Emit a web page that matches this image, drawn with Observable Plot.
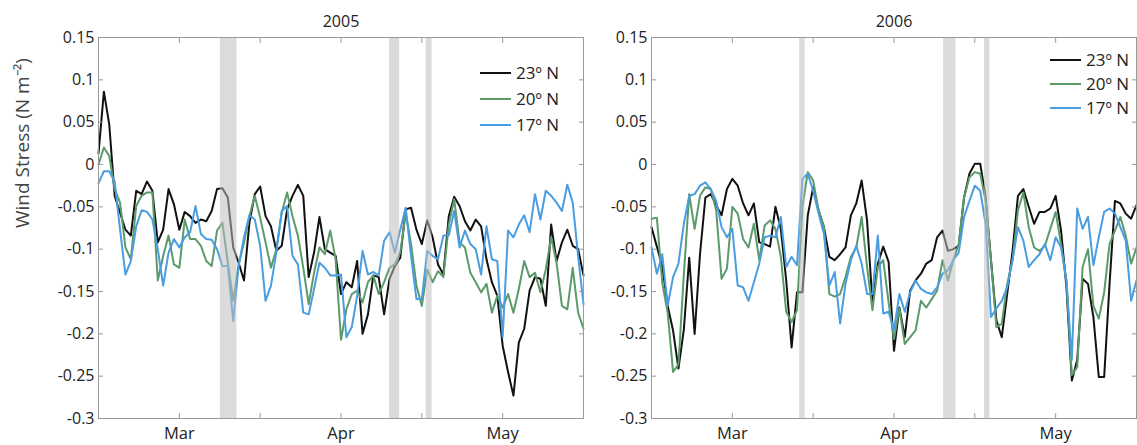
<!DOCTYPE html>
<html>
<head>
<meta charset="utf-8">
<script src="https://cdn.jsdelivr.net/npm/d3@7"></script>
<script src="https://cdn.jsdelivr.net/npm/@observablehq/plot@0.6"></script>
<style>
  html, body { margin: 0; padding: 0; background: #fff; }
  #chart { position: relative; width: 1137px; height: 445px; font-family: "Open Sans", sans-serif; }
  #chart > svg { position: absolute; top: 0; }
</style>
</head>
<body>
<div id="chart"></div>
<script>
// Daily wind stress (N m^-2), day of year 45 (14 Feb) to 135 (15 May)
const days = d3.range(45, 136);

const lat23_2005 = [
  0.013, 0.086, 0.047, -0.037, -0.057, -0.077, -0.084, -0.031, -0.035, -0.020,
  -0.031, -0.092, -0.077, -0.029, -0.047, -0.077, -0.056, -0.061, -0.069, -0.065,
  -0.067, -0.055, -0.029, -0.028, -0.039, -0.098, -0.116, -0.137, -0.069, -0.035,
  -0.026, -0.061, -0.073, -0.102, -0.096, -0.053, -0.037, -0.024, -0.037, -0.133,
  -0.104, -0.062, -0.100, -0.104, -0.108, -0.153, -0.139, -0.145, -0.114, -0.200,
  -0.177, -0.131, -0.133, -0.177, -0.135, -0.120, -0.110, -0.053, -0.051, -0.077,
  -0.094, -0.066, -0.086, -0.118, -0.130, -0.061, -0.038, -0.049, -0.067, -0.078,
  -0.065, -0.073, -0.112, -0.139, -0.155, -0.214, -0.245, -0.273, -0.210, -0.194,
  -0.149, -0.133, -0.135, -0.167, -0.071, -0.114, -0.092, -0.077, -0.096, -0.100,
  -0.131
];
const lat20_2005 = [
  0.000, 0.020, 0.010, -0.029, -0.045, -0.098, -0.112, -0.049, -0.037, -0.033,
  -0.033, -0.137, -0.108, -0.084, -0.118, -0.122, -0.065, -0.088, -0.088, -0.096,
  -0.114, -0.120, -0.078, -0.069, -0.116, -0.161, -0.118, -0.092, -0.061, -0.037,
  -0.063, -0.092, -0.122, -0.100, -0.057, -0.033, -0.061, -0.084, -0.122, -0.165,
  -0.128, -0.098, -0.106, -0.078, -0.112, -0.207, -0.171, -0.153, -0.149, -0.163,
  -0.139, -0.131, -0.153, -0.139, -0.122, -0.118, -0.104, -0.057, -0.094, -0.143,
  -0.167, -0.124, -0.139, -0.126, -0.133, -0.071, -0.041, -0.092, -0.098, -0.128,
  -0.139, -0.151, -0.141, -0.175, -0.155, -0.169, -0.153, -0.175, -0.147, -0.114,
  -0.133, -0.128, -0.151, -0.124, -0.086, -0.116, -0.167, -0.171, -0.122, -0.175,
  -0.194
];
const lat17_2005 = [
  -0.022, -0.008, -0.008, -0.020, -0.077, -0.130, -0.114, -0.073, -0.054, -0.056,
  -0.065, -0.100, -0.143, -0.104, -0.088, -0.098, -0.086, -0.080, -0.049, -0.082,
  -0.088, -0.089, -0.100, -0.120, -0.120, -0.185, -0.120, -0.086, -0.060, -0.065,
  -0.096, -0.161, -0.143, -0.104, -0.055, -0.049, -0.108, -0.118, -0.175, -0.177,
  -0.147, -0.116, -0.122, -0.131, -0.131, -0.130, -0.204, -0.192, -0.155, -0.102,
  -0.130, -0.127, -0.131, -0.090, -0.080, -0.104, -0.077, -0.051, -0.108, -0.159,
  -0.159, -0.102, -0.108, -0.112, -0.084, -0.084, -0.055, -0.098, -0.078, -0.094,
  -0.100, -0.130, -0.073, -0.112, -0.114, -0.204, -0.078, -0.086, -0.071, -0.060,
  -0.080, -0.035, -0.065, -0.031, -0.037, -0.045, -0.055, -0.024, -0.045, -0.108,
  -0.165
];

const lat23_2006 = [
  -0.074, -0.097, -0.120, -0.167, -0.196, -0.241, -0.195, -0.110, -0.200, -0.106,
  -0.039, -0.035, -0.048, -0.060, -0.029, -0.017, -0.025, -0.046, -0.060, -0.046,
  -0.092, -0.094, -0.097, -0.050, -0.076, -0.137, -0.216, -0.151, -0.151, -0.060,
  -0.027, -0.054, -0.074, -0.109, -0.113, -0.106, -0.098, -0.060, -0.046, -0.019,
  -0.066, -0.163, -0.117, -0.097, -0.115, -0.220, -0.169, -0.204, -0.149, -0.137,
  -0.129, -0.117, -0.113, -0.086, -0.078, -0.102, -0.100, -0.096, -0.039, -0.011,
  0.001, 0.001, -0.039, -0.113, -0.184, -0.204, -0.153, -0.102, -0.037, -0.029,
  -0.050, -0.070, -0.056, -0.056, -0.052, -0.037, -0.078, -0.145, -0.255, -0.231,
  -0.135, -0.141, -0.180, -0.251, -0.251, -0.141, -0.043, -0.046, -0.058, -0.064,
  -0.048
];
const lat20_2006 = [
  -0.064, -0.063, -0.140, -0.175, -0.245, -0.236, -0.130, -0.035, -0.076, -0.037,
  -0.027, -0.029, -0.054, -0.135, -0.123, -0.050, -0.058, -0.088, -0.098, -0.070,
  -0.113, -0.072, -0.066, -0.076, -0.109, -0.174, -0.186, -0.172, -0.050, -0.009,
  -0.019, -0.054, -0.074, -0.153, -0.156, -0.153, -0.133, -0.109, -0.098, -0.062,
  -0.121, -0.172, -0.121, -0.113, -0.163, -0.206, -0.170, -0.212, -0.204, -0.196,
  -0.161, -0.169, -0.159, -0.149, -0.113, -0.137, -0.113, -0.094, -0.039, -0.015,
  -0.009, -0.011, -0.043, -0.113, -0.192, -0.188, -0.141, -0.113, -0.054, -0.033,
  -0.074, -0.098, -0.102, -0.096, -0.076, -0.056, -0.094, -0.137, -0.249, -0.239,
  -0.121, -0.100, -0.167, -0.182, -0.151, -0.094, -0.078, -0.062, -0.084, -0.117,
  -0.098
];
const lat17_2006 = [
  -0.098, -0.129, -0.106, -0.167, -0.133, -0.117, -0.070, -0.037, -0.035, -0.025,
  -0.021, -0.029, -0.043, -0.074, -0.086, -0.076, -0.143, -0.145, -0.161, -0.139,
  -0.117, -0.086, -0.084, -0.086, -0.062, -0.121, -0.109, -0.119, -0.017, -0.011,
  -0.031, -0.058, -0.082, -0.143, -0.127, -0.188, -0.141, -0.113, -0.096, -0.117,
  -0.153, -0.153, -0.084, -0.176, -0.174, -0.196, -0.153, -0.174, -0.151, -0.137,
  -0.147, -0.151, -0.153, -0.145, -0.129, -0.125, -0.113, -0.104, -0.062, -0.043,
  -0.025, -0.031, -0.070, -0.180, -0.170, -0.161, -0.145, -0.113, -0.074, -0.090,
  -0.121, -0.113, -0.106, -0.094, -0.113, -0.086, -0.098, -0.137, -0.231, -0.052,
  -0.076, -0.062, -0.119, -0.086, -0.056, -0.052, -0.058, -0.074, -0.090, -0.161,
  -0.137
];

// Shaded event periods (day of year)
const eventStart2005 = [67.6, 99.0, 105.8];
const eventEnd2005   = [70.7, 100.9, 106.9];
const eventStart2006 = [72.5, 99.2, 106.8];
const eventEnd2006   = [73.5, 101.5, 107.8];

const seriesNames = ["23º N", "20º N", "17º N"];
const seriesColors = ["#111111", "#5b9a6b", "#4a9de0"];
const yTicks = [0.15, 0.1, 0.05, 0, -0.05, -0.1, -0.15, -0.2, -0.25, -0.3];
const xTicks = [60, 75, 90, 105, 120];
const monthTicks = [60, 90, 120];
const monthNames = ["Mar", "Apr", "May"];
const yLabel = "Wind Stress (N m⁻²)";

const axisGray = "#9a9a9a";
const textColor = "#222";

function panel({title, series, starts, ends, width, marginLeft, marginRight, showLabel}) {
  const rows = series.flatMap((vals, k) =>
    vals.map((v, i) => ({day: days[i], value: v, name: seriesNames[k]})));
  const events = starts.map((s, i) => ({start: s, end: ends[i]}));
  const monthLabel = d => {
    const i = monthTicks.indexOf(d);
    return i >= 0 ? monthNames[i] : "";
  };
  const marks = [
    Plot.line(rows, {x: "day", y: "value", z: "name", stroke: "name", strokeWidth: 2, strokeLinejoin: "round"}),
    Plot.rect(events, {x1: "start", x2: "end", fill: "#bdbdbd", fillOpacity: 0.55}),
    Plot.frame({stroke: axisGray}),
    Plot.axisY(yTicks, {anchor: "left", tickSize: -5, tickPadding: 9, tickFormat: d => String(d),
      fontSize: 16, stroke: axisGray, fill: textColor, label: null}),
    Plot.axisY(yTicks, {anchor: "right", tickSize: -5, tickFormat: () => "", stroke: axisGray, label: null}),
    Plot.axisX(xTicks, {anchor: "bottom", tickSize: -5, tickPadding: 14, tickFormat: monthLabel,
      fontSize: 16.5, stroke: axisGray, fill: textColor, label: null}),
    Plot.axisX(xTicks, {anchor: "top", tickSize: -5, tickFormat: () => "", stroke: axisGray, label: null}),
    Plot.text([title], {frameAnchor: "top", dy: -22, fontSize: 16, fill: textColor})
  ];
  if (showLabel) {
    marks.push(Plot.text([yLabel], {frameAnchor: "left", rotate: -90, dx: -76, fontSize: 19, fill: "#444"}));
  }
  return Plot.plot({
    width, height: 445,
    marginLeft, marginRight, marginTop: 37, marginBottom: 27,
    x: {domain: [45, 135]},
    y: {domain: [-0.3, 0.15]},
    color: {domain: seriesNames, range: seriesColors},
    style: {fontFamily: "'Open Sans', sans-serif", background: "transparent", overflow: "visible"},
    marks
  });
}

const chart = document.getElementById("chart");

const left = panel({
  title: "2005", series: [lat23_2005, lat20_2005, lat17_2005],
  starts: eventStart2005, ends: eventEnd2005,
  width: 600, marginLeft: 98, marginRight: 17, showLabel: true
});
left.style.left = "0px";
chart.appendChild(left);

const right = panel({
  title: "2006", series: [lat23_2006, lat20_2006, lat17_2006],
  starts: eventStart2006, ends: eventEnd2006,
  width: 537, marginLeft: 51, marginRight: 1, showLabel: false
});
right.style.left = "600px";
chart.appendChild(right);

// Line legends inside each panel
const legendLayout = [
  {x: 480, y: 73, step: 26},
  {x: 1050, y: 60, step: 24}
];
const overlay = d3.select(chart).append("svg")
  .attr("width", 1137).attr("height", 445)
  .style("left", "0px").style("pointer-events", "none");
legendLayout.forEach(({x, y, step}) => {
  const g = overlay.append("g");
  seriesNames.forEach((name, i) => {
    const yy = y + i * step;
    g.append("line").attr("x1", x).attr("x2", x + 31).attr("y1", yy).attr("y2", yy)
      .attr("stroke", seriesColors[i]).attr("stroke-width", 2);
    g.append("text").attr("x", x + 36).attr("y", yy).attr("dy", "0.35em")
      .attr("font-family", "'Open Sans', sans-serif").attr("font-size", 17)
      .attr("fill", textColor).text(name);
  });
});
</script>
</body>
</html>
